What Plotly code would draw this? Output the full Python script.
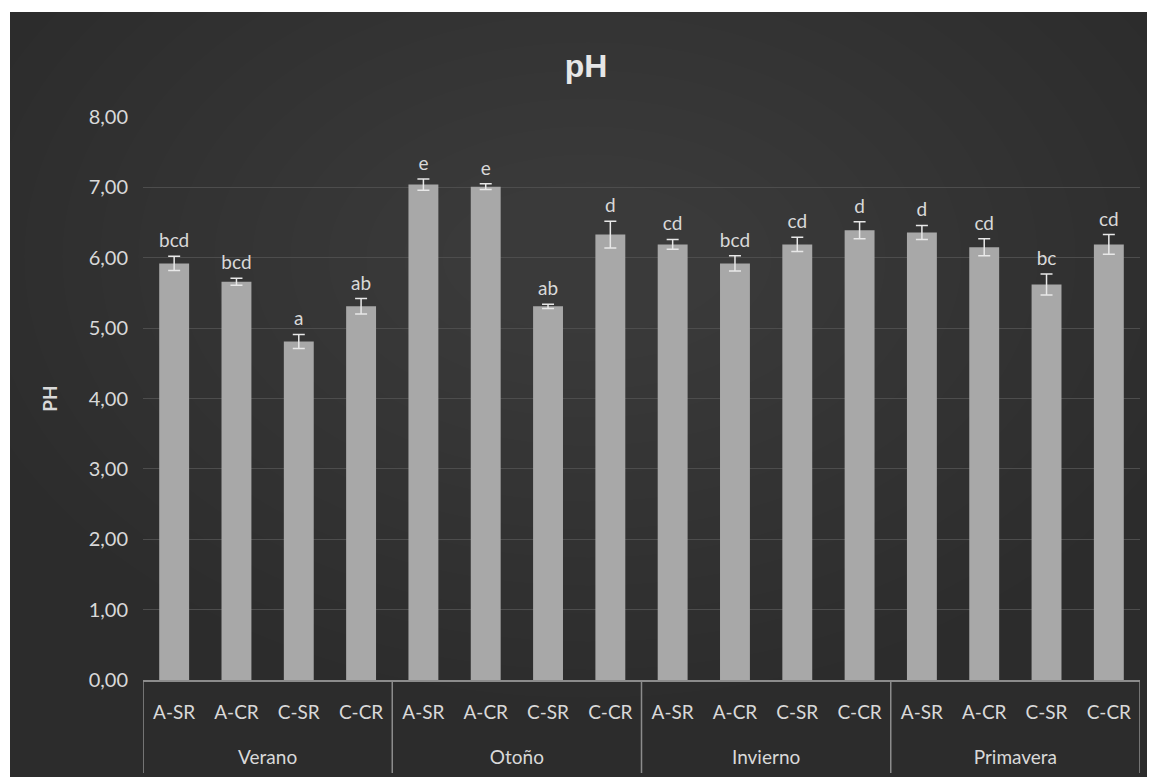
import plotly.graph_objects as go

seasons = ["Verano", "Otoño", "Invierno", "Primavera"]
treatments = ["A-SR", "A-CR", "C-SR", "C-CR"]

ph_mean = [5.92, 5.66, 4.81, 5.31,
           7.04, 7.01, 5.31, 6.33,
           6.19, 5.92, 6.19, 6.39,
           6.36, 6.15, 5.62, 6.19]
ph_err = [0.10, 0.05, 0.10, 0.11,
          0.08, 0.04, 0.03, 0.19,
          0.07, 0.11, 0.10, 0.12,
          0.10, 0.12, 0.15, 0.14]
letters = ["bcd", "bcd", "a", "ab",
           "e", "e", "ab", "d",
           "cd", "bcd", "cd", "d",
           "d", "cd", "bc", "cd"]

y_ticks = [0, 1, 2, 3, 4, 5, 6, 7, 8]

n_t = len(treatments)
x_pos = list(range(len(seasons) * n_t))
x_inner = [t for _ in seasons for t in treatments]
group_centers = [g * n_t + (n_t - 1) / 2 for g in range(len(seasons))]
group_edges = [g * n_t - 0.5 for g in range(len(seasons) + 1)]

FONT = "Lato"
TXT = "#d9d9d9"
AXC = "#8c8c8c"

fig = go.Figure()
fig.add_trace(go.Bar(
    x=x_pos, y=ph_mean,
    marker=dict(color="#a8a8a8", line=dict(width=0)),
    error_y=dict(type="data", array=ph_err, visible=True,
                 color="#e8e8e8", thickness=1.5, width=6),
    showlegend=False, hoverinfo="skip",
))
fig.add_trace(go.Scatter(
    x=x_pos, y=[m + e + 0.06 for m, e in zip(ph_mean, ph_err)],
    mode="text", text=letters, textposition="top center",
    textfont=dict(family=FONT, size=19, color=TXT),
    showlegend=False, hoverinfo="skip",
))
# invisible trace on the second x axis so that it is drawn
fig.add_trace(go.Scatter(x=group_centers, y=[0] * len(seasons), xaxis="x2",
                         mode="markers", marker=dict(opacity=0),
                         showlegend=False, hoverinfo="skip"))

# page body has an 8px margin, so the figure is slightly smaller than the window
W, H = 1147, 769
L, R, T, B = 135, 15, 109, 97
pw, ph = W - L - R, H - T - B

def px_x(p):
    return (p - L) / pw

def px_y(p):
    return (H - B - p) / ph

shapes = [dict(type="rect", xref="paper", yref="paper",
               x0=px_x(2), x1=px_x(W + 5), y0=px_y(H + 5), y1=px_y(4),
               fillcolor="#2c2c2c", line=dict(width=0), layer="below")]
# soft radial lightening toward the upper centre
for i in range(14):
    rx = 640 - i * 38
    ry = 440 - i * 28
    cx, cy = 580, 250
    shapes.append(dict(type="circle", xref="paper", yref="paper",
                       x0=px_x(cx - rx), x1=px_x(cx + rx),
                       y0=px_y(cy + ry), y1=px_y(cy - ry),
                       fillcolor="rgba(255,255,255,0.009)", line=dict(width=0),
                       layer="below"))
# category box dividers
for e in group_edges:
    shapes.append(dict(type="line", xref="x", yref="paper",
                       x0=e, x1=e, y0=0, y1=px_y(765),
                       line=dict(color=AXC, width=1.5)))

xr = [-0.5, len(x_pos) - 0.5]

fig.update_layout(
    width=W, height=H,
    margin=dict(l=L, r=R, t=T, b=B, autoexpand=False),
    paper_bgcolor="white",
    plot_bgcolor="rgba(0,0,0,0)",
    separators=",.",
    bargap=0.52,
    shapes=shapes,
    font=dict(family=FONT, color=TXT),
    title=dict(text="<b>pH</b>", x=578 / W, xanchor="center", xref="container",
               y=1 - 58 / H, yanchor="middle", yref="container",
               font=dict(family="Liberation Sans", size=32, color="#e6e6e6")),
    xaxis=dict(
        range=xr, tickvals=x_pos, ticktext=x_inner,
        showline=True, linecolor=AXC, linewidth=1.5,
        ticks="", tickfont=dict(family=FONT, size=19, color=TXT),
        ticklabelstandoff=14,
        showgrid=False, zeroline=False, automargin=False,
    ),
    xaxis2=dict(
        range=xr, overlaying="x", side="bottom", anchor="y",
        tickvals=group_centers, ticktext=seasons,
        ticks="", tickfont=dict(family=FONT, size=19, color=TXT),
        ticklabelstandoff=64,
        showgrid=False, zeroline=False, showline=False, automargin=False,
    ),
    yaxis=dict(
        range=[0, 8], tickvals=y_ticks, tickformat=".2f",
        showgrid=True, gridcolor="#4d4d4d", gridwidth=1,
        zeroline=False, showline=False,
        tickfont=dict(family=FONT, size=20, color=TXT),
        ticklabelstandoff=14,
        title=dict(text="<b>PH</b>", standoff=26,
                   font=dict(family=FONT, size=19, color=TXT)),
        automargin=False,
    ),
)

fig.write_html("out.html")
